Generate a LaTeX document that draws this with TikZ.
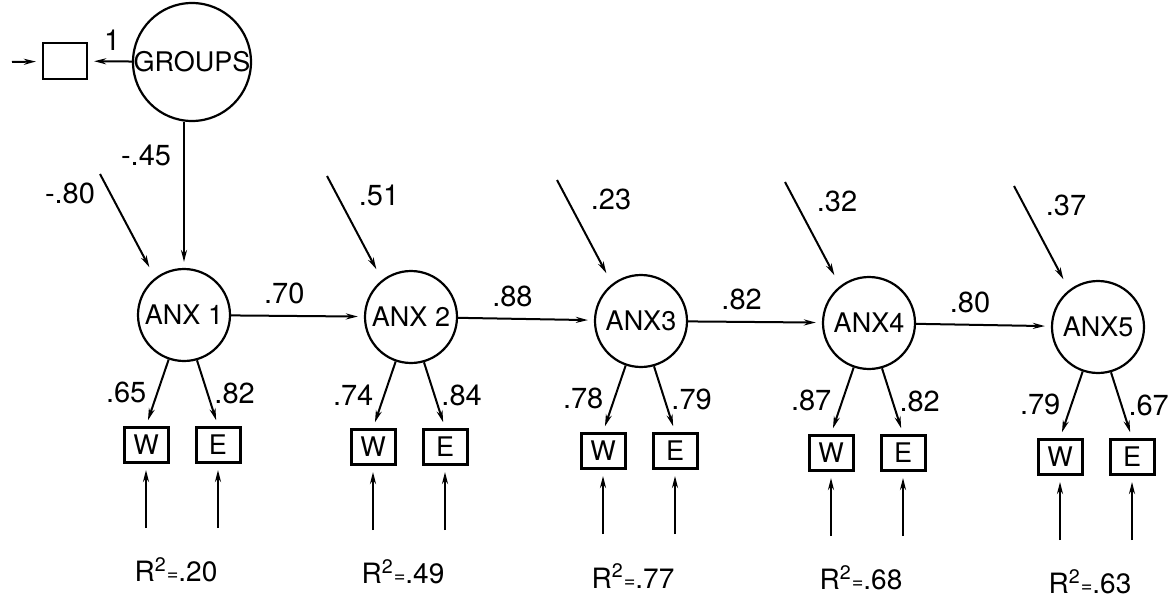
\documentclass[tikz,border=0pt]{standalone}
\usepackage{fontspec}
\setmainfont{TeX Gyre Heros}
\usetikzlibrary{arrows.meta}

\begin{document}
\begin{tikzpicture}[
    x=0.5pt, y=-0.5pt,
    factor/.style={circle, draw, line width=1.1pt, minimum size=46pt, inner sep=0pt, font=\fontsize{13.5}{15}\selectfont},
    indicator/.style={rectangle, draw, line width=1.5pt, minimum width=22pt, minimum height=17.5pt, inner sep=0pt, font=\fontsize{13.5}{15}\selectfont},
    effect/.style={-{Stealth[length=6pt, width=3pt]}, line width=1pt, shorten >=3pt},
    coef/.style={inner sep=1pt, font=\fontsize{14.5}{16}\selectfont},
    rsq/.style={inner sep=1pt, font=\fontsize{14}{16}\selectfont}
]
\useasboundingbox (0,0) rectangle (1172,599);
% exogenous part
\node[factor, minimum size=57pt] (groups) at (192,62) {GROUPS};
\node[indicator, line width=1.1pt, minimum height=18pt] (dummy) at (65,61) {};
\coordinate (feed) at (12,62);
\draw[effect] (feed) -- (dummy);
\draw[effect] (groups) -- node[coef, above=4pt, pos=0.45] {1} (dummy);
% anxiety factors
\node[factor] (anx1) at (184,315) {ANX 1};
\node[factor] (anx2) at (411,317) {ANX 2};
\node[factor] (anx3) at (641,321) {ANX3};
\node[factor] (anx4) at (869,323) {ANX4};
\node[factor] (anx5) at (1098,327) {ANX5};
\draw[effect] (groups.south -| anx1) -- node[coef, left=5pt, pos=0.23] {-.45} (anx1);
\draw[effect] (anx1) -- node[coef, above=4.5pt, pos=0.4] {.70} (anx2);
\draw[effect] (anx2) -- node[coef, above=4.5pt, pos=0.4] {.88} (anx3);
\draw[effect] (anx3) -- node[coef, above=4.5pt, pos=0.4] {.82} (anx4);
\draw[effect] (anx4) -- node[coef, above=4.5pt, pos=0.4] {.80} (anx5);
% disturbances
\foreach \f/\dx/\val in {1/-30/{-.80}, 2/52/.51, 3/54/.23, 4/52/.32, 5/52/.37} {
    \coordinate (err\f) at ([shift={(-84,-141)}]anx\f.center);
    \draw[effect, shorten >=6pt] (err\f) -- (anx\f.128);
    \node[coef] (errlbl\f) at ([shift={(\dx,19)}]err\f) {\val};
}
% indicators W and E
\foreach \f/\lw/\le/\r in {1/.65/.82/.20, 2/.74/.84/.49, 3/.78/.79/.77, 4/.87/.82/.68, 5/.79/.67/.63} {
    \node[indicator] (w\f) at ([shift={(-38,130)}]anx\f.center) {W};
    \node[indicator] (e\f) at ([shift={(34,130)}]anx\f.center) {E};
    \draw[effect] (anx\f.251) -- node[coef, left=4pt] {\lw} (w\f.north);
    \draw[effect] (anx\f.286) -- node[coef, right=2pt] {\le} (e\f.north);
    \coordinate (uw\f) at ([shift={(0,64)}]w\f.south);
    \coordinate (ue\f) at ([shift={(0,64)}]e\f.south);
    \draw[effect] (uw\f) -- (w\f);
    \draw[effect] (ue\f) -- (e\f);
    \node[rsq] (r\f) at ([shift={(-8,255)}]anx\f.center) {R\textsuperscript{2}\raisebox{0.5pt}{\fontsize{10}{10}\selectfont=}\r};
}
\end{tikzpicture}
\end{document}
